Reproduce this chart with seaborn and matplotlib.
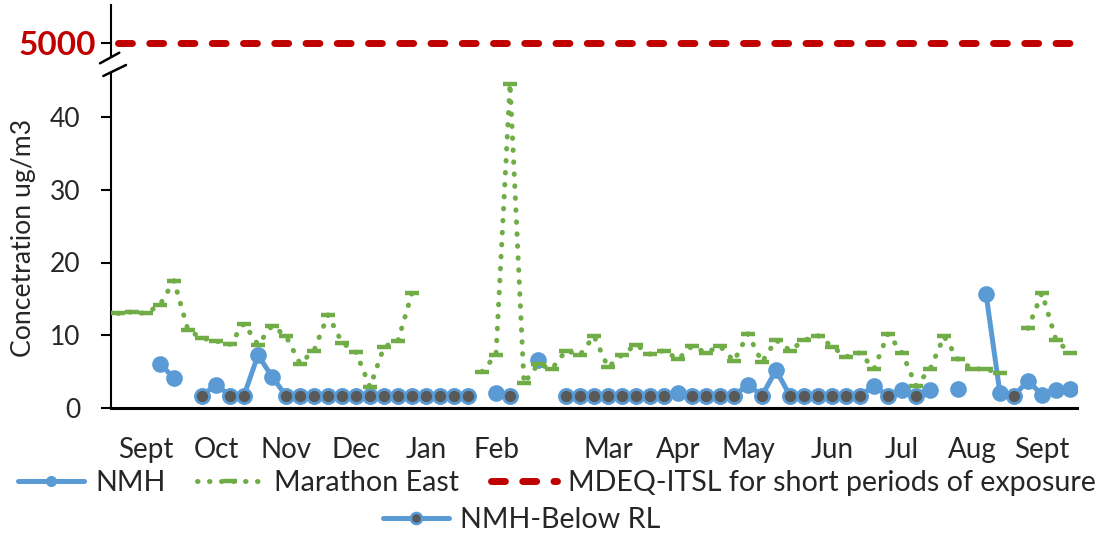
import matplotlib.pyplot as plt
import numpy as np
import pandas as pd
import seaborn as sns
from matplotlib.lines import Line2D
from matplotlib.patches import Polygon

nan = np.nan

# one entry per sampling event (69 events, category axis)
month_labels = ['Sept', 'Oct', 'Nov', 'Dec', 'Jan', 'Feb', 'Mar', 'Apr',
                'May', 'Jun', 'Jul', 'Aug', 'Sept']
month_pos = [2, 7, 12, 17, 22, 27, 35, 40, 45, 51, 56, 61, 66]

nmh = [nan, nan, nan, 6.1, 4.1, nan, 1.7, 3.2, 1.7, 1.7,
       7.3, 4.3, 1.7, 1.7, 1.7, 1.7, 1.7, 1.7, 1.7, 1.7,
       1.7, 1.7, 1.7, 1.7, 1.7, 1.7, nan, 2.1, 1.7, nan,
       6.6, nan, 1.7, 1.7, 1.7, 1.7, 1.7, 1.7, 1.7, 1.7,
       2.1, 1.7, 1.7, 1.7, 1.7, 3.2, 1.7, 5.2, 1.7, 1.7,
       1.7, 1.7, 1.7, 1.7, 3.0, 1.7, 2.5, 1.7, 2.5, nan,
       2.6, nan, 15.7, 2.0, 1.7, 3.75, 1.8, 2.5, 2.6]

nmh_below_rl = [nan, nan, nan, nan, nan, nan, 1.7, nan, 1.7, 1.7,
                nan, nan, 1.7, 1.7, 1.7, 1.7, 1.7, 1.7, 1.7, 1.7,
                1.7, 1.7, 1.7, 1.7, 1.7, 1.7, nan, nan, 1.7, nan,
                nan, nan, 1.7, 1.7, 1.7, 1.7, 1.7, 1.7, 1.7, 1.7,
                nan, 1.7, 1.7, 1.7, 1.7, nan, 1.7, nan, 1.7, 1.7,
                1.7, 1.7, 1.7, 1.7, nan, 1.7, nan, 1.7, nan, nan,
                nan, nan, nan, nan, 1.7, nan, nan, nan, nan]

marathon_east = [13.0, 13.2, 13.0, 14.2, 17.5, 10.7, 9.6, 9.2, 8.75, 11.6,
                 8.7, 11.3, 9.9, 6.1, 7.9, 12.8, 9.0, 7.65, 2.9, 8.4,
                 9.25, 15.8, nan, nan, nan, nan, 5.0, 7.3, 44.6, 3.4,
                 6.0, 5.4, 7.9, 7.3, 9.9, 5.6, 7.3, 8.7, 7.4, 7.9,
                 6.7, 8.5, 7.6, 8.5, 6.45, 10.2, 6.3, 9.35, 7.9, 9.3,
                 9.95, 8.45, 7.05, 7.6, 5.35, 10.2, 7.6, 3.05, 5.3, 9.85,
                 6.7, 5.4, 5.35, 4.75, nan, 10.95, 15.8, 9.35, 7.6]

itsl_limit = 5000
itsl = [itsl_limit] * len(marathon_east)

BLUE = '#5B9BD5'
GREEN = '#70AD47'
RED = '#C00000'
DARK = '#595959'

W, H = 1105, 533


def segments(values):
    # split a series into runs of non-missing values so gaps stay open
    frame = pd.DataFrame({'event': np.arange(len(values)), 'value': values})
    frame['seg'] = frame['value'].isna().cumsum()
    return frame.dropna()


def box(left, top, right, bottom):
    return [left / W, 1 - bottom / H, (right - left) / W, (bottom - top) / H]


sns.set_style('white')
plt.rcParams['font.family'] = ['Lato', 'DejaVu Sans']

fig = plt.figure(figsize=(W / 100, H / 100), dpi=100)
ax_top = fig.add_axes(box(111, 5, 1077, 65))
ax = fig.add_axes(box(111, 65, 1077, 408))

nmh_style = dict(color=BLUE, linewidth=3.6, marker='o', markersize=12,
                 markerfacecolor=BLUE, markeredgecolor=BLUE, markeredgewidth=0)
below_style = dict(color=BLUE, linewidth=3.6, marker='o', markersize=10,
                   markerfacecolor=DARK, markeredgecolor=BLUE, markeredgewidth=1.8)
me_style = dict(color=GREEN, linewidth=3.6, linestyle=(0, (0.1, 2.3)),
                dash_capstyle='round', marker='_', markersize=10,
                markeredgecolor=GREEN, markeredgewidth=3.2)
itsl_style = dict(color=RED, linewidth=5, linestyle=(0, (2, 2.5)),
                  dash_capstyle='round')

sns.lineplot(data=segments(nmh), x='event', y='value', units='seg',
             estimator=None, ax=ax, zorder=2, **nmh_style)
sns.lineplot(data=segments(nmh_below_rl), x='event', y='value', units='seg',
             estimator=None, ax=ax, zorder=3, **below_style)
sns.lineplot(data=segments(marathon_east), x='event', y='value', units='seg',
             estimator=None, ax=ax, zorder=4, **me_style)
sns.lineplot(data=segments(itsl), x='event', y='value', units='seg',
             estimator=None, ax=ax_top, zorder=3, **itsl_style)

for a in (ax, ax_top):
    a.set_xlim(-0.5, len(marathon_east) - 0.5)
    a.set_xlabel('')
    a.set_ylabel('')
    a.spines['top'].set_visible(False)
    a.spines['right'].set_visible(False)
    a.spines['left'].set_color('black')
    a.spines['left'].set_linewidth(1.5)

ax.set_ylim(0, 343 / 7.275)
ax.set_yticks([0, 10, 20, 30, 40])
ax.set_xticks(month_pos, month_labels)
ax.spines['bottom'].set_color('black')
ax.spines['bottom'].set_linewidth(2.2)
ax.tick_params(axis='y', left=True, direction='out', length=7, width=1.5,
               color='black', labelsize=19, pad=15)
ax.tick_params(axis='x', length=0, labelsize=20, pad=21)
ax.set_ylabel('Concetration ug/m3', fontsize=19.2)
ax.yaxis.set_label_coords((36 - 111) / 966, 0.4956)

ax_top.set_ylim(4989, 5019)
ax_top.set_yticks([itsl_limit], [str(itsl_limit)])
ax_top.spines['bottom'].set_visible(False)
ax_top.tick_params(axis='x', bottom=False, labelbottom=False)
ax_top.tick_params(axis='y', left=True, direction='out', length=7, width=1.5,
                   color='black', labelsize=24, labelcolor=RED, pad=3.5)
for label in ax_top.get_yticklabels():
    label.set_fontweight('bold')


# axis break marks
def fxy(x, y):
    return (x / W, 1 - y / H)


fig.add_artist(Polygon([fxy(100, 63.3), fxy(119.3, 52.7), fxy(126, 65), fxy(103.3, 76)],
                       closed=True, facecolor='white', edgecolor='none',
                       transform=fig.transFigure, zorder=10))
for (x0, y0), (x1, y1) in [((100, 63.3), (119.3, 52.7)), ((103.3, 76), (126, 65))]:
    fig.add_artist(Line2D([x0 / W, x1 / W], [1 - y0 / H, 1 - y1 / H], color='black',
                          linewidth=1.8, transform=fig.transFigure, zorder=11))

h_nmh = Line2D([], [], **{**nmh_style, 'markersize': 8})
h_me = Line2D([], [], **me_style)
h_itsl = Line2D([], [], **itsl_style)
h_below = Line2D([], [], **{**below_style, 'markersize': 8})

leg_kw = dict(loc='center', frameon=False, fontsize=20.6, handlelength=2.3,
              handletextpad=0.4, columnspacing=1.1, borderaxespad=0, borderpad=0)
fig.legend(handles=[h_nmh, h_me, h_itsl],
           labels=['NMH', 'Marathon East', 'MDEQ-ITSL for short periods of exposure'],
           ncol=3, bbox_to_anchor=(557 / W, 1 - 483 / H), **leg_kw)
fig.legend(handles=[h_below], labels=['NMH-Below RL'],
           bbox_to_anchor=(522 / W, 1 - 520 / H), **leg_kw)

fig.savefig('out.png', dpi=100)
